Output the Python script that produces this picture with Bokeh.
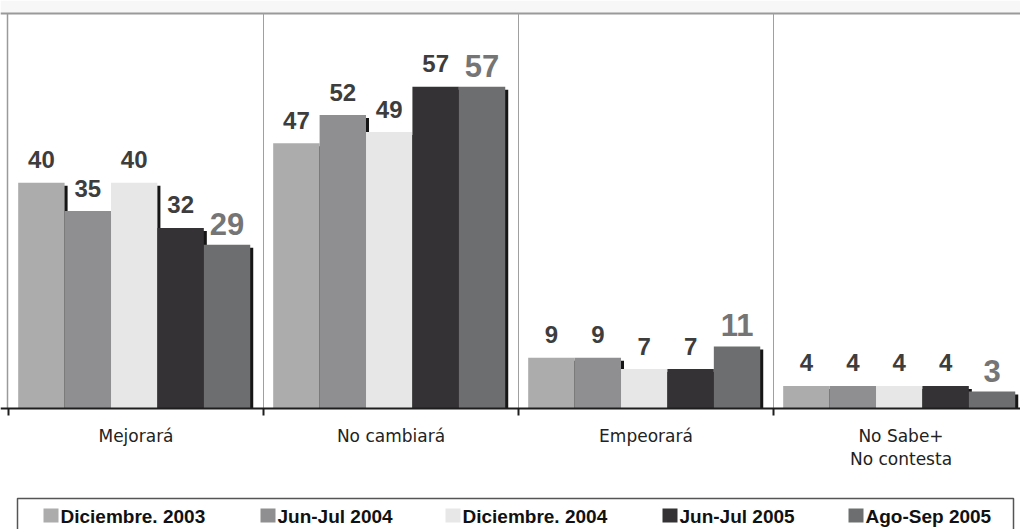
from bokeh.plotting import figure
from bokeh.models import Range1d
from bokeh.core.properties import value
from bokeh.embed import file_html
from bokeh.resources import INLINE

# ---------------- data ----------------
categories = ["Mejorará", "No cambiará", "Empeorará", "No Sabe+\nNo contesta"]
series_names = ["Diciembre. 2003", "Jun-Jul 2004", "Diciembre. 2004",
                "Jun-Jul 2005", "Ago-Sep 2005"]
dic_2003 = [40, 47, 9, 4]
jun_jul_2004 = [35, 52, 9, 4]
dic_2004 = [40, 49, 7, 4]
jun_jul_2005 = [32, 57, 7, 4]
ago_sep_2005 = [29, 57, 11, 3]
series_values = [dic_2003, jun_jul_2004, dic_2004, jun_jul_2005, ago_sep_2005]

# ---------------- styles / layout ----------------
colors = ["#acacac", "#8f8f91", "#e6e7e6", "#343234", "#6d6e6f"]
label_colors = ["#3d3d3d"] * 4 + ["#757575"]
label_sizes = ["24px"] * 4 + ["31px"]
label_offsets = [-23] * 4 + [-21]

W, H = 1020, 529
X0_PX = 8             # pixel of first group boundary
PX_X = 255.0          # pixels per category group
Y_TOP = 70            # value at top border
AXIS_PX = 408         # pixel y of the value axis line
TOP_PX = 13           # pixel y of the top border
PX_Y = (AXIS_PX - TOP_PX) / Y_TOP
BAR_W = 0.182
PAD = 0.038


def xd(px):
    return (px - X0_PX) / PX_X


def yd(py):
    return (AXIS_PX - py) / PX_Y


p = figure(width=W, height=H, x_range=Range1d(xd(0), xd(W)),
           y_range=Range1d(yd(H), yd(0)), output_backend="svg",
           toolbar_location=None, x_axis_location=None, y_axis_location=None,
           min_border=0, min_border_left=0, min_border_right=0,
           min_border_top=0, min_border_bottom=0)
p.grid.visible = False
p.outline_line_color = None
p.background_fill_color = "white"
p.border_fill_color = "white"

n_groups = len(categories)
x_end = xd(W)

# faint band above the frame
p.quad(left=[xd(0)], right=[x_end], top=[yd(0)], bottom=[Y_TOP], fill_color="#f7f7f7",
       line_color=None)
# frame: top border, left border, separators
p.segment(x0=[xd(0)], y0=[Y_TOP], x1=[x_end], y1=[Y_TOP], line_color="#9a9a9a", line_width=2)
p.segment(x0=[xd(7)], y0=[0], x1=[xd(7)], y1=[Y_TOP], line_color="#9a9a9a", line_width=1.5)
seps = list(range(1, n_groups))
p.segment(x0=seps, y0=[0] * len(seps), x1=seps, y1=[Y_TOP] * len(seps),
          line_color="#a0a0a0", line_width=1)

# shadows then bars
shift_x = 3 / PX_X
shift_y = 3 / PX_Y
bar_sources = []
for k, vals in enumerate(series_values):
    xs = [i + PAD + (k + 0.5) * BAR_W for i in range(n_groups)]
    bar_sources.append((xs, vals))
    p.vbar(x=[x + shift_x for x in xs], top=[v - shift_y for v in vals], bottom=0,
           width=BAR_W, fill_color="#161616", line_color=None)
for k, (xs, vals) in enumerate(bar_sources):
    p.vbar(x=xs, top=vals, bottom=0, width=BAR_W, fill_color=colors[k],
           line_color=None)
for k, (xs, vals) in enumerate(bar_sources):
    p.text(x=xs, y=vals, text=[str(v) for v in vals], text_align="center",
           text_baseline="alphabetic", y_offset=label_offsets[k],
           text_font=value("Liberation Sans"), text_font_style="bold",
           text_font_size=label_sizes[k], text_color=label_colors[k])

# value axis baseline and boundary ticks
p.segment(x0=[xd(0)], y0=[0], x1=[x_end], y1=[0], line_color="#1e1e1e", line_width=2)
ticks = list(range(0, n_groups + 1))
p.segment(x0=ticks, y0=[0] * len(ticks), x1=ticks, y1=[yd(AXIS_PX + 7)] * len(ticks),
          line_color="#1e1e1e", line_width=2)

# category labels
cx, cy, ct = [], [], []
for i, cat in enumerate(categories):
    for j, line in enumerate(cat.split("\n")):
        cx.append(i + 0.5)
        cy.append(yd(435 + 23 * j))
        ct.append(line)
p.text(x=cx, y=cy, text=ct, text_align="center", text_baseline="alphabetic",
       text_font=value("DejaVu Sans"), text_font_size="17px", text_color="#222222")

# legend box and items
p.quad(left=[xd(17)], right=[xd(1013)], top=[yd(498)], bottom=[yd(H + 20)],
       fill_color=None, line_color="#555555", line_width=1.5)
legend_x_px = [43, 260, 445, 662, 848]
p.rect(x=[xd(v + 7.5) for v in legend_x_px], y=[yd(515)] * 5,
       width=15, height=14, width_units="screen", height_units="screen",
       fill_color=colors, line_color=None)
p.text(x=[xd(v + 17) for v in legend_x_px], y=[yd(516)] * 5, text=series_names,
       text_align="left", text_baseline="alphabetic",
       text_font=value("Liberation Sans"), text_font_style="bold",
       text_font_size="19px", text_color="#111111")

open("out.html", "w").write(file_html(p, INLINE))
